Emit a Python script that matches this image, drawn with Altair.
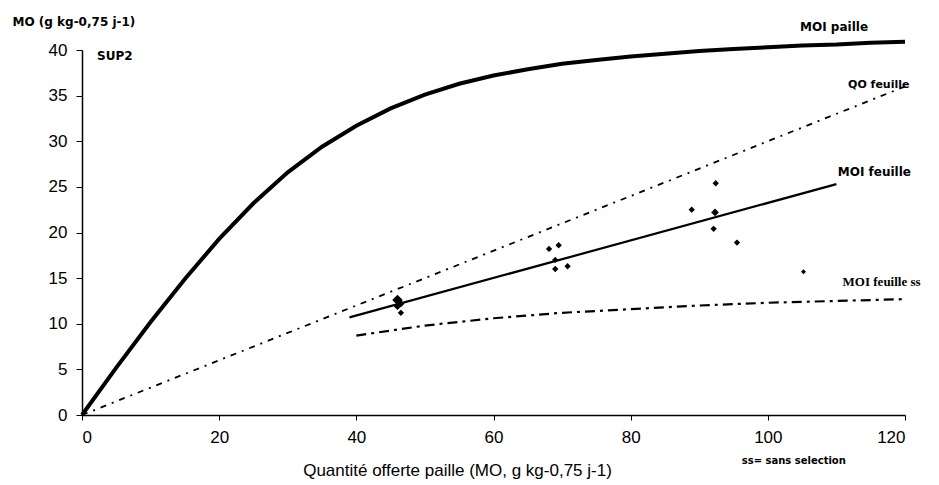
import altair as alt
import pandas as pd

# ---- data ----
paille_x = [0, 5, 10, 15, 20, 25, 30, 35, 40, 45, 50, 55, 60, 65, 70, 75, 80, 85, 90, 95, 100, 105, 110, 115, 120]
paille_y = [0, 5.2, 10.2, 14.9, 19.3, 23.2, 26.6, 29.4, 31.7, 33.6, 35.1, 36.3, 37.2, 37.9, 38.5, 38.9, 39.3, 39.6, 39.9, 40.1, 40.3, 40.5, 40.6, 40.8, 40.9]

qo_x = [0, 120]
qo_y = [0, 36.0]

moif_x = [39, 110]
moif_y = [10.7, 25.3]

ss_x = [40, 50, 60, 70, 80, 90, 100, 110, 120]
ss_y = [8.7, 9.8, 10.6, 11.2, 11.6, 12.0, 12.3, 12.5, 12.7]

pts_x = [46.0, 46.5, 46.0, 46.5, 68.1, 69.5, 69.0, 70.8, 69.0, 92.4, 88.9, 92.3, 92.1, 95.5, 105.2]
pts_y = [12.6, 12.2, 11.9, 11.2, 18.2, 18.6, 16.0, 16.3, 17.0, 25.4, 22.5, 22.2, 20.4, 18.9, 15.7]
pts_size = [110, 50, 50, 40, 40, 40, 40, 40, 40, 40, 40, 60, 40, 40, 25]

label_text = ["MOI paille", "QO feuille", "MOI feuille", "SUP2", "ss= sans selection"]
label_x = [104.7, 111.7, 110.2, 2.2, 96.2]
label_y = [42.5, 36.2, 26.6, 39.3, -5.0]
label_size = [12, 11, 12, 12, 10]

ss_label_text = ["MOI feuille ss"]
ss_label_x = [110.9]
ss_label_y = [14.6]

x_ticks = [0, 20, 40, 60, 80, 100, 120]
y_ticks = [0, 5, 10, 15, 20, 25, 30, 35, 40]

# ---- tables ----
paille = pd.DataFrame({"x": paille_x, "y": paille_y})
qo = pd.DataFrame({"x": qo_x, "y": qo_y})
moif = pd.DataFrame({"x": moif_x, "y": moif_y})
ss = pd.DataFrame({"x": ss_x, "y": ss_y})
pts = pd.DataFrame({"x": pts_x, "y": pts_y, "s": pts_size})
labels = pd.DataFrame({"t": label_text, "x": label_x, "y": label_y, "fs": label_size})
ss_labels = pd.DataFrame({"t": ss_label_text, "x": ss_label_x, "y": ss_label_y})

xscale = alt.Scale(domain=[0, 120], nice=False, zero=False)
yscale = alt.Scale(domain=[0, 40], nice=False, zero=False)

xaxis = alt.Axis(
    values=x_ticks, grid=False, domainColor="black", domainWidth=1.5,
    tickColor="black", tickSize=5, labelPadding=9, labelFontSize=17,
    labelFont="Liberation Sans", labelColor="black",
    title="Quantité offerte paille (MO, g kg-0,75 j-1)",
    titleFont="Liberation Sans", titleFontSize=17, titleFontWeight="normal",
    titleColor="black", titleX=375, titleY=55, titleAlign="center",
    titleBaseline="middle",
)
yaxis = alt.Axis(
    values=y_ticks, grid=False, domainColor="black", domainWidth=1.5,
    tickColor="black", tickSize=6, labelPadding=9, labelFontSize=17,
    labelFont="Liberation Sans", labelColor="black",
    title="MO (g kg-0,75 j-1)", titleAngle=0, titleX=-70, titleY=-29,
    titleAlign="left", titleBaseline="middle", titleFont="DejaVu Sans",
    titleFontSize=12, titleFontWeight="bold", titleColor="black",
)

base_x = alt.X("x:Q", scale=xscale, axis=xaxis)
base_y = alt.Y("y:Q", scale=yscale, axis=yaxis)

c_paille = alt.Chart(paille).mark_line(color="black", strokeWidth=4, clip=False).encode(
    x=base_x, y=base_y)
c_qo = alt.Chart(qo).mark_line(color="black", strokeWidth=1.8, strokeDash=[6, 6, 2, 6]).encode(
    x=alt.X("x:Q", scale=xscale), y=alt.Y("y:Q", scale=yscale))
c_moif = alt.Chart(moif).mark_line(color="black", strokeWidth=2.2).encode(
    x=alt.X("x:Q", scale=xscale), y=alt.Y("y:Q", scale=yscale))
c_ss = alt.Chart(ss).mark_line(color="black", strokeWidth=2.2, strokeDash=[10, 5, 3, 5]).encode(
    x=alt.X("x:Q", scale=xscale), y=alt.Y("y:Q", scale=yscale))
c_pts = alt.Chart(pts).mark_point(shape="diamond", filled=True, color="black", opacity=1).encode(
    x=alt.X("x:Q", scale=xscale), y=alt.Y("y:Q", scale=yscale),
    size=alt.Size("s:Q", scale=None, legend=None))
c_lab = alt.Chart(labels).mark_text(align="left", baseline="middle", font="DejaVu Sans",
                                     fontWeight="bold", color="black").encode(
    x=alt.X("x:Q", scale=xscale), y=alt.Y("y:Q", scale=yscale), text="t:N",
    size=alt.Size("fs:Q", scale=None, legend=None))
c_sslab = alt.Chart(ss_labels).mark_text(align="left", baseline="middle", font="Liberation Serif",
                                          fontWeight="bold", fontSize=13, color="black").encode(
    x=alt.X("x:Q", scale=xscale), y=alt.Y("y:Q", scale=yscale), text="t:N")

chart = alt.layer(c_paille, c_qo, c_moif, c_ss, c_pts, c_lab, c_sslab).properties(
    width=823, height=365, autosize="none",
    padding={"left": 82, "top": 50, "right": 34, "bottom": 70},
    background="white",
).configure_view(stroke=None)

chart.save("out.html", embed_options={"renderer": "svg", "actions": False})
